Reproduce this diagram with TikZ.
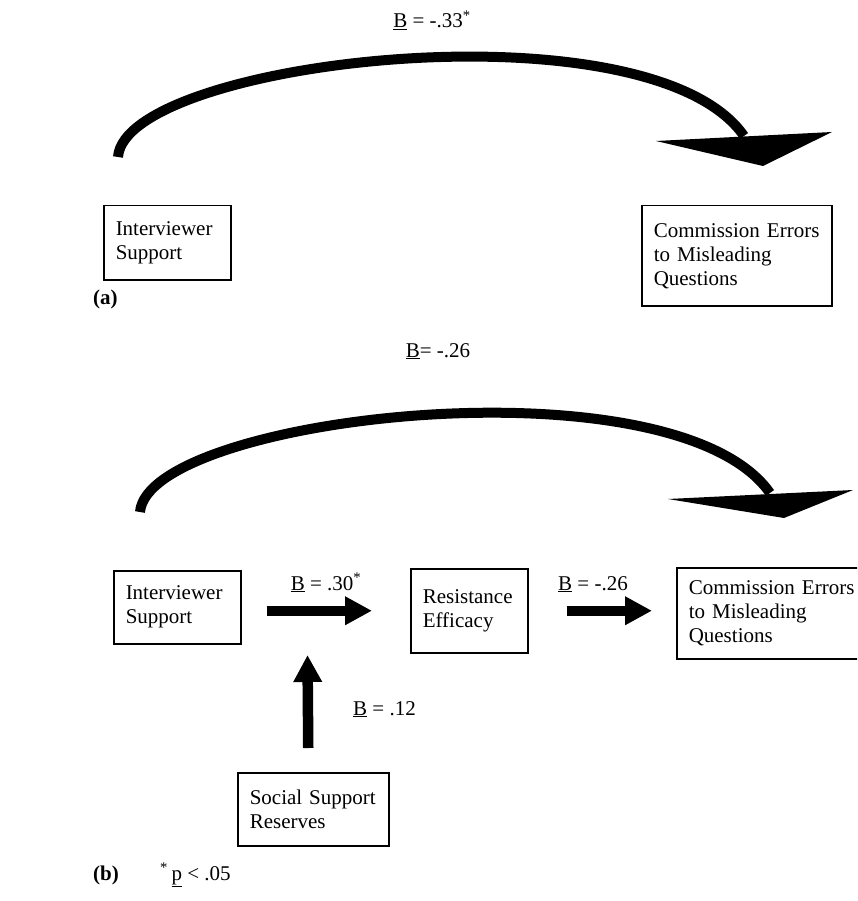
\documentclass[tikz,border=0pt]{standalone}
\usepackage{fontspec}
\setmainfont{Liberation Serif}
\usetikzlibrary{arrows.meta}
\begin{document}
\begin{tikzpicture}[x=1pt,y=-1pt,
  box/.style={draw,line width=1.5pt,align=left,anchor=north west,inner xsep=12pt,inner ysep=0pt,font=\fontsize{21}{24}\selectfont},
  lbl/.style={font=\fontsize{21}{24}\selectfont,inner sep=0pt,anchor=base},
  plbl/.style={font=\fontsize{21}{24}\selectfont\bfseries,inner sep=0pt,anchor=base west},
  curve/.style={line width=10pt},
  head/.style={fill=black,draw=none},
  fat/.style={line width=10.5pt,-{Triangle[length=27pt,width=27pt]}}]
\useasboundingbox (0,0) rectangle (857,901);
\clip (0,0) rectangle (857,901);
% ---------- panel (a)
\node[lbl] (la) at (432,28) {\underline{B} = -.33\textsuperscript{*}};
\node[box,text width=103pt,minimum height=74pt] (a1) at (103,205) {Interviewer\\Support};
\node[box,text width=166pt,minimum height=100pt] (a2) at (641,205) {Commission Errors\\to Misleading\\Questions};
\node[plbl] (pa) at (93,304) {(a)};
\coordinate (s1) at (118,157);
\coordinate (e1) at (744,136);
\draw[curve] (s1) .. controls (125,60) and (650,0) .. (e1);
\coordinate (h1a) at (656,141);
\coordinate (h1b) at (832,132);
\coordinate (h1c) at (763,166);
\fill[head] (h1a) -- (h1b) -- (h1c) -- cycle;
% ---------- panel (b)
\node[lbl] (lb) at (438,357) {\underline{B}= -.26};
\coordinate (s2) at (140,512);
\coordinate (e2) at (770,493);
\draw[curve] (s2) .. controls (148,416) and (674,356) .. (e2);
\coordinate (h2a) at (668,499);
\coordinate (h2b) at (853,490);
\coordinate (h2c) at (784,518);
\fill[head] (h2a) -- (h2b) -- (h2c) -- cycle;
\node[box,text width=103pt,minimum height=73pt] (b1) at (113,570) {Interviewer\\Support};
\node[box,text width=93pt,minimum height=84pt] (b2) at (410,568) {Resistance\\Efficacy};
\node[box,text width=180pt,minimum height=91pt] (b3) at (676,567) {Commission Errors\\to Misleading\\Questions};
\node[box,text width=127pt,minimum height=73pt] (b4) at (237,772) {Social Support\\Reserves};
\coordinate (vt) at (307.5,655);
\draw[fat,shorten <=25pt,shorten >=38pt] (b1.east |- b2.west) -- (b2.west);
\draw[fat,shorten <=38pt,shorten >=24pt] (b2.east) -- (b2.east -| b3.west);
\draw[fat] ([xshift=-5pt,yshift=24pt]b4.north) -- (vt);
\node[lbl] (l30) at (326,590) {\underline{B} = .30\textsuperscript{*}};
\node[lbl] (l26) at (593,590) {\underline{B} = -.26};
\node[lbl,anchor=base west] (l12) at (353,715) {\underline{B} = .12};
\node[plbl] (pb) at (93,880) {(b)};
\node[lbl,anchor=base west] (fn) at (160,880) {\textsuperscript{*}\,\underline{p} < .05};
\end{tikzpicture}
\end{document}
